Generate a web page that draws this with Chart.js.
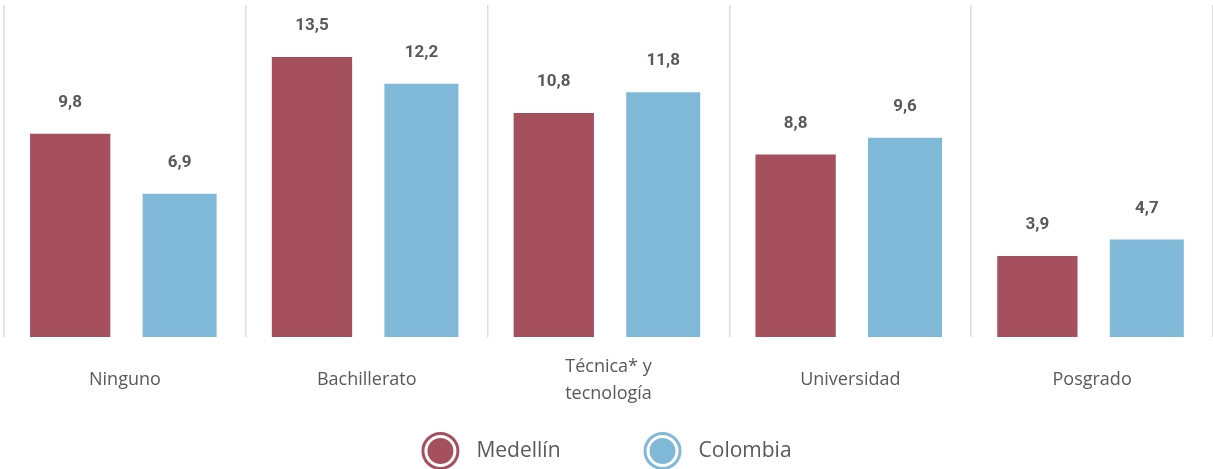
<!DOCTYPE html>
<html>
<head>
<meta charset="utf-8">
<script src="https://cdn.jsdelivr.net/npm/chart.js@4/dist/chart.umd.min.js"></script>
<style>
  html, body { margin: 0; padding: 0; background: #fff; }
  #wrap { width: 1213px; height: 469px; }
</style>
</head>
<body>
<div id="wrap"><canvas id="myChart"></canvas></div>
<script>
var categories = ['Ninguno', 'Bachillerato', ['Técnica* y', 'tecnología'], 'Universidad', 'Posgrado'];
var medellin = [9.8, 13.5, 10.8, 8.8, 3.9];
var colombia = [6.9, 12.2, 11.8, 9.6, 4.7];
var seriesNames = ['Medellín', 'Colombia'];
var seriesColors = ['#a64f5d', '#80b9d7'];

var textColor = '#595959';
var fontFamily = "'Open Sans', Roboto, sans-serif";

const fmt = (v) => v.toFixed(1).replace('.', ',');

// value labels above each bar
const valueLabels = {
    id: 'valueLabels',
    afterDatasetsDraw: (chart) => {
        const ctx = chart.ctx;
        ctx.save();
        ctx.font = "bold 17px Roboto, sans-serif";
        ctx.fillStyle = textColor;
        ctx.textAlign = 'center';
        ctx.textBaseline = 'middle';
        chart.data.datasets.forEach((ds, di) => {
            chart.getDatasetMeta(di).data.forEach((bar, i) => {
                ctx.fillText(fmt(ds.data[i]), bar.x, bar.y - 31);
            });
        });
        ctx.restore();
    }
};

// legend with ringed circles, centred under the chart
const ringLegend = {
    id: 'ringLegend',
    afterDraw: (chart) => {
        const ctx = chart.ctx;
        ctx.save();
        ctx.font = "21px " + fontFamily;
        ctx.textBaseline = 'middle';
        ctx.textAlign = 'left';
        const y = chart.height - 18;
        const r = 19, gap = 36, between = 83;
        const widths = chart.data.datasets.map((ds) => ctx.measureText(ds.label).width);
        let total = between * (widths.length - 1);
        widths.forEach((w) => { total += r + gap + w; });
        let x = chart.width / 2 - total / 2 + r;
        chart.data.datasets.forEach((ds, i) => {
            ctx.beginPath();
            ctx.arc(x, y, 17.5, 0, Math.PI * 2);
            ctx.lineWidth = 3;
            ctx.strokeStyle = ds.backgroundColor;
            ctx.stroke();
            ctx.beginPath();
            ctx.arc(x, y, 13, 0, Math.PI * 2);
            ctx.fillStyle = ds.backgroundColor;
            ctx.fill();
            ctx.fillStyle = textColor;
            ctx.fillText(ds.label, x + gap, y);
            x += gap + widths[i] + between + r;
        });
        ctx.restore();
    }
};

new Chart(document.getElementById('myChart'), {
    type: 'bar',
    data: {
        labels: categories,
        datasets: [{
            label: seriesNames[0],
            data: medellin,
            backgroundColor: seriesColors[0],
            barPercentage: 0.734
        }, {
            label: seriesNames[1],
            data: colombia,
            backgroundColor: seriesColors[1],
            barPercentage: 0.734,
            maxBarThickness: 74
        }]
    },
    options: {
        responsive: true,
        maintainAspectRatio: false,
        animation: false,
        categoryPercentage: 0.905,
        layout: { padding: { top: 5, left: 4, right: 0, bottom: 19 } },
        plugins: {
            legend: { display: false },
            tooltip: { enabled: false }
        },
        scales: {
            x: {
                border: { display: false },
                grid: {
                    offset: true,
                    drawTicks: false,
                    lineWidth: 1.5,
                    color: (c) => c.index >= categories.length ? 'rgba(0,0,0,0)' : '#dcdcdc'
                },
                ticks: {
                    color: textColor,
                    padding: 29.5,
                    crossAlign: 'center',
                    maxRotation: 0,
                    autoSkip: false,
                    font: { family: fontFamily, size: 18, lineHeight: '27px' }
                }
            },
            y: {
                display: false,
                min: 0,
                max: 16
            }
        }
    },
    plugins: [valueLabels, ringLegend]
});
</script>
</body>
</html>
